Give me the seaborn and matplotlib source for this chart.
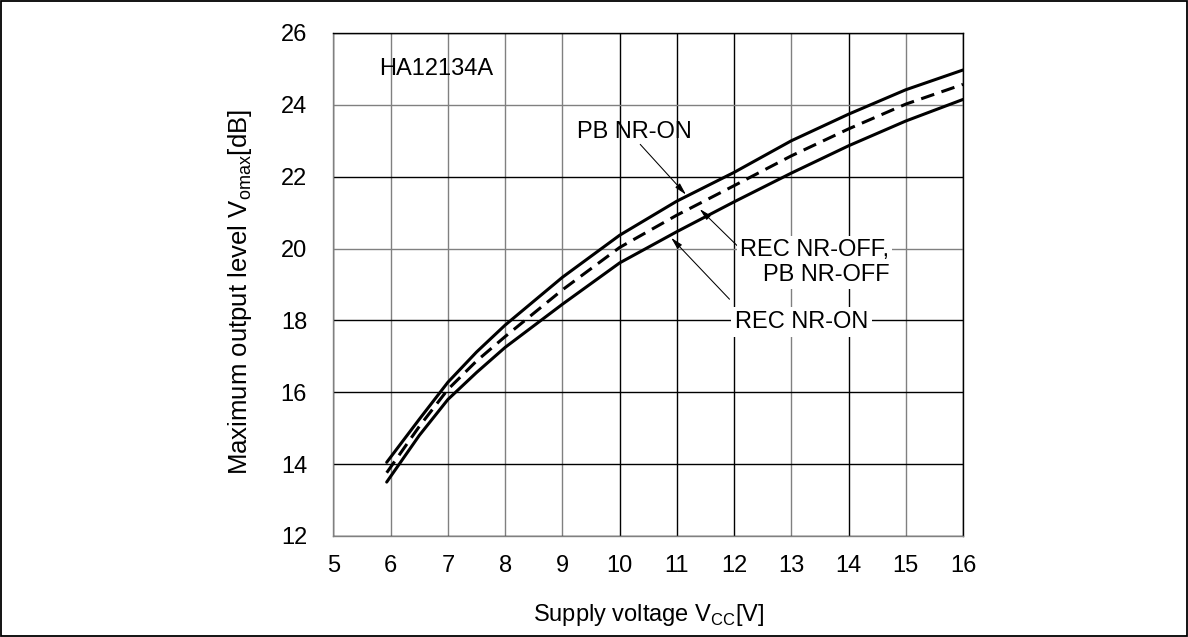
import matplotlib
matplotlib.use("Agg")
import matplotlib.pyplot as plt
import seaborn as sns
import pandas as pd
from matplotlib.patches import Rectangle

# ---- data ----
vcc = [5.93, 6.5, 7, 7.5, 8, 9, 10, 11, 12, 13, 14, 15, 16]
pb_nr_on = [14.05, 15.25, 16.28, 17.12, 17.87, 19.2, 20.37, 21.32, 22.12, 23.0, 23.74, 24.42, 24.97]
nr_off = [13.76, 15.05, 16.08, 16.87, 17.55, 18.85, 20.03, 20.93, 21.75, 22.58, 23.33, 24.02, 24.57]
rec_nr_on = [13.5, 14.8, 15.8, 16.55, 17.25, 18.45, 19.6, 20.47, 21.3, 22.1, 22.86, 23.55, 24.15]

x_ticks = [5, 6, 7, 8, 9, 10, 11, 12, 13, 14, 15, 16]
y_ticks = [12, 14, 16, 18, 20, 22, 24, 26]

chip_label = "HA12134A"
label_pb_on = "PB NR-ON"
label_off = "REC NR-OFF,\nPB NR-OFF"
label_rec_on = "REC NR-ON"
x_label = r"Supply voltage V$_{\mathregular{CC}}$[V]"
y_label = r"Maximum output level V$_{\mathregular{omax}}$[dB]"

df = pd.DataFrame({"vcc": vcc, "pb_on": pb_nr_on, "off": nr_off, "rec_on": rec_nr_on})

sns.set_theme(style="white")
plt.rcParams["font.family"] = ["Liberation Sans", "DejaVu Sans"]
plt.rcParams["mathtext.fontset"] = "custom"
plt.rcParams["mathtext.rm"] = "Liberation Sans"
for k in ("text.color", "axes.labelcolor", "xtick.color", "ytick.color"):
    plt.rcParams[k] = "black"

fig = plt.figure(figsize=(11.88, 6.37), dpi=100)
ax = fig.add_axes([0.2807, 0.1586, 0.5299, 0.7896])

lw = 2.2
sns.lineplot(data=df, x="vcc", y="pb_on", ax=ax, color="black", lw=lw)
sns.lineplot(data=df, x="vcc", y="rec_on", ax=ax, color="black", lw=lw)
sns.lineplot(data=df, x="vcc", y="off", ax=ax, color="black", lw=lw)
ax.lines[-1].set_dashes((4.5, 2.5))

ax.set_xlim(5, 16)
ax.set_ylim(12, 26)
ax.set_xticks(x_ticks)
ax.set_yticks(y_ticks)
ax.tick_params(axis="both", length=0, labelsize=17, colors="black")
ax.tick_params(axis="x", pad=14)
ax.tick_params(axis="y", pad=19)

ax.grid(True, lw=1.0)
gray, black = "#808080", "#000000"
xcol = {6: gray, 7: gray, 8: gray, 9: gray, 10: black, 11: black, 12: black,
        13: gray, 14: black, 15: gray}
ycol = {14: black, 16: black, 18: black, 20: gray, 22: black, 24: gray}
for t, gl in zip(x_ticks, ax.xaxis.get_gridlines()):
    gl.set_color(xcol.get(t, black))
for t, gl in zip(y_ticks, ax.yaxis.get_gridlines()):
    gl.set_color(ycol.get(t, black))
ax.set_axisbelow(True)

for side, c in (("left", gray), ("bottom", gray), ("top", black), ("right", black)):
    ax.spines[side].set_visible(True)
    ax.spines[side].set_color(c)
    ax.spines[side].set_linewidth(1.0)

ax.set_xlabel(x_label, fontsize=17, labelpad=18, color="black")
ax.set_ylabel(y_label, fontsize=18.5, labelpad=19, color="black")
ax.yaxis.label.set_y(0.485)

# annotations
ax.text(5.79, 24.84, chip_label, fontsize=17, ha="left", va="baseline", color="black")
ax.text(9.25, 23.09, label_pb_on, fontsize=17, ha="left", va="baseline", color="black")
ax.text(14.71, 19.62, label_off, fontsize=17, ha="right", va="center", color="black",
        multialignment="right", linespacing=1.2,
        bbox=dict(facecolor="white", edgecolor="none", pad=2), zorder=5)
ax.text(13.18, 17.95, label_rec_on, fontsize=17, ha="center", va="center", color="black",
        bbox=dict(facecolor="white", edgecolor="none", pad=3), zorder=5)

arrow = dict(arrowstyle="-|>,head_length=0.6,head_width=0.15", mutation_scale=12,
             lw=0.75, color="black", shrinkA=0, shrinkB=0)
ax.annotate("", xy=(11.16, 21.5), xytext=(10.36, 22.9), arrowprops=arrow)
ax.annotate("", xy=(11.4, 21.1), xytext=(12.33, 19.65), arrowprops=arrow)
ax.annotate("", xy=(10.9, 20.3), xytext=(11.92, 18.59), arrowprops=arrow)

fig.patches.append(Rectangle((0.001, 0.002), 0.998, 0.996, transform=fig.transFigure,
                             fill=False, ec="black", lw=1.3))

fig.savefig("out.png", dpi=100)
